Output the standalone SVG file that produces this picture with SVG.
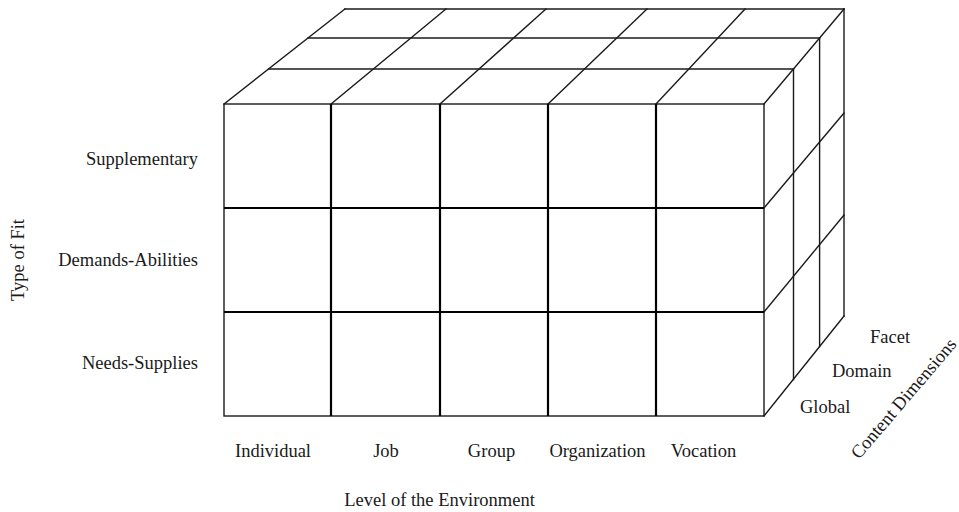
<svg xmlns="http://www.w3.org/2000/svg" width="959" height="512" viewBox="0 0 959 512">
<style>
.edge{stroke:#1a1a1a;stroke-width:1.4;fill:none;stroke-linecap:square}
.inner{stroke:#000;stroke-width:2.2;fill:none}
.lbl{font-family:"Liberation Serif","Times New Roman",serif;font-size:18.5px;fill:#1a1a1a}
</style>
<rect width="959" height="512" fill="#fff"/>
<g id="top-face" class="edge">
<line x1="268.6" y1="69" x2="793.5" y2="69"/>
<line x1="308.1" y1="38" x2="819.6" y2="38"/>
<line x1="345" y1="9" x2="844" y2="9"/>
<line x1="224" y1="104" x2="345" y2="9"/>
<line x1="331" y1="104" x2="446" y2="9"/>
<line x1="440" y1="104" x2="546" y2="9"/>
<line x1="548" y1="104" x2="647" y2="9"/>
<line x1="656" y1="104" x2="745" y2="9"/>
<line x1="764" y1="104" x2="844" y2="9"/>
</g>
<g id="side-face" class="edge">
<line x1="793.5" y1="69" x2="793.5" y2="379.6"/>
<line x1="819.6" y1="38" x2="819.6" y2="346.5"/>
<line x1="844" y1="9" x2="844" y2="316"/>
<line x1="764" y1="208" x2="844" y2="113"/>
<line x1="764" y1="312" x2="844" y2="215"/>
<line x1="764" y1="416" x2="844" y2="316"/>
</g>
<g id="front-face">
<rect class="edge" x="224" y="104" width="540" height="312"/>
<g class="inner">
<line x1="331" y1="104" x2="331" y2="416"/>
<line x1="440" y1="104" x2="440" y2="416"/>
<line x1="548" y1="104" x2="548" y2="416"/>
<line x1="656" y1="104" x2="656" y2="416"/>
<line x1="224" y1="208" x2="764" y2="208"/>
<line x1="224" y1="312" x2="764" y2="312"/>
</g>
</g>
<g id="type-of-fit" class="lbl">
<text x="24" y="260" text-anchor="middle" transform="rotate(-90 24 260)">Type of Fit</text>
<text x="198" y="165" text-anchor="end">Supplementary</text>
<text x="198" y="266" text-anchor="end">Demands-Abilities</text>
<text x="198" y="369" text-anchor="end">Needs-Supplies</text>
</g>
<g id="level-of-environment" class="lbl" text-anchor="middle">
<text x="273" y="457">Individual</text>
<text x="386" y="457">Job</text>
<text x="491.5" y="457">Group</text>
<text x="597.5" y="457">Organization</text>
<text x="703.5" y="457">Vocation</text>
<text x="439.5" y="506">Level of the Environment</text>
</g>
<g id="content-dimensions" class="lbl">
<text x="870" y="343">Facet</text>
<text x="832" y="377">Domain</text>
<text x="800" y="413">Global</text>
<text x="859" y="460" transform="rotate(-49.5 859 460)">Content Dimensions</text>
</g>
</svg>
